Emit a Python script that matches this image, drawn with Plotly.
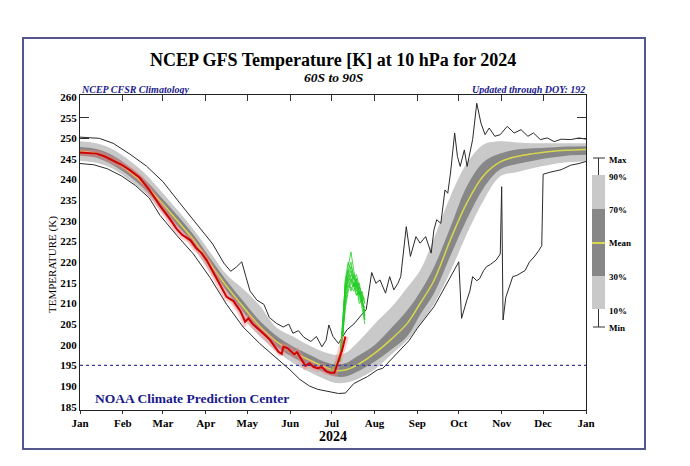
import plotly.graph_objects as go

# ---------------- data ----------------
CLIM_DAYS = [0, 12, 24, 36, 48, 58, 70, 82, 94, 106, 118, 130, 142, 154, 166, 176, 184, 192,
             200, 213, 225, 237, 246, 256, 268, 280, 292, 304, 316, 328, 340, 352, 366]
CLIM_MEAN = [246.8, 246.3, 244.6, 241.9, 238.4, 234.8, 230.2, 225.5, 219.7, 214.2, 209.2, 204.5,
             200.8, 198.2, 196.3, 194.8, 193.8, 193.9, 195.0, 197.9, 201.3, 205.3, 210.0, 215.5,
             225.5, 234.5, 241.0, 244.3, 245.6, 246.3, 246.8, 247.1, 247.3]
CLIM_P90 = [249.3, 248.8, 247.3, 244.6, 241.2, 237.4, 232.8, 228.0, 222.5, 217.0, 213.5, 209.5,
            204.2, 202.0, 199.8, 198.3, 197.6, 198.0, 200.3, 205.0, 209.0, 214.0, 218.0, 225.8,
            236.0, 244.0, 248.5, 249.3, 249.0, 248.8, 248.8, 248.8, 248.8]
CLIM_P70 = [247.9, 247.4, 245.8, 243.0, 239.6, 236.0, 231.5, 226.7, 221.0, 215.5, 210.6, 205.8,
            202.2, 199.6, 197.6, 196.0, 195.2, 195.5, 197.1, 199.9, 204.0, 208.5, 212.8, 218.8,
            228.5, 238.5, 244.3, 246.3, 247.3, 247.6, 247.8, 248.0, 248.1]
CLIM_P30 = [245.8, 245.3, 243.5, 240.8, 237.3, 233.6, 229.0, 224.4, 218.6, 213.0, 208.0, 203.3,
            199.6, 197.0, 195.0, 193.4, 192.4, 192.3, 193.4, 195.9, 198.8, 202.2, 207.3, 212.4,
            221.6, 230.5, 238.0, 242.5, 243.8, 244.6, 245.3, 245.8, 246.0]
CLIM_P10 = [244.6, 244.1, 242.6, 239.8, 236.5, 232.6, 228.0, 223.5, 217.6, 212.0, 206.5, 202.0,
            198.5, 195.6, 193.4, 191.8, 190.8, 190.8, 191.6, 194.0, 197.6, 201.2, 205.0, 209.8,
            217.8, 227.0, 235.0, 240.8, 241.8, 242.8, 243.6, 244.2, 244.4]

MAX_DAYS = [0, 14, 24, 36, 48, 60, 72, 84, 96, 104, 109, 113, 117, 120, 123, 128, 133, 137, 142,
            147, 151, 154, 158, 162, 167, 171, 175, 178, 180, 183, 187, 193, 198, 203, 207, 211,
            214, 217, 221, 224, 227, 230, 232, 236, 239, 243, 246, 250, 254, 256, 258, 261, 264,
            266, 268, 271, 273, 275, 278, 280, 284, 287, 290, 293, 296, 300, 304, 309, 314, 319,
            324, 328, 333, 338, 343, 348, 355, 361, 366]
MAX_T = [250.3, 250.0, 248.8, 246.2, 243.3, 239.5, 234.4, 229.4, 224.4, 219.8, 217.8, 218.8,
         220.1, 216.5, 213.0, 210.8, 209.8, 206.6, 205.2, 204.3, 205.0, 202.8, 203.4, 201.8,
         200.8, 202.0, 199.5, 201.1, 204.8, 202.0, 200.3, 203.6, 205.0, 207.0, 208.5, 217.5,
         214.9, 215.7, 212.5, 216.5, 213.3, 214.9, 216.5, 228.6, 221.4, 226.2, 224.6, 226.2,
         222.2, 227.8, 230.3, 229.4, 237.5, 236.7, 241.6, 251.3, 245.6, 243.2, 247.2, 243.2,
         249.7, 258.5, 253.7, 250.9, 252.5, 250.5, 250.9, 252.9, 251.3, 252.1, 250.5, 251.3,
         249.7, 250.1, 249.2, 249.8, 249.7, 250.1, 249.8]

MIN_DAYS = [0, 10, 20, 30, 40, 50, 58, 70, 82, 94, 106, 118, 130, 142, 152, 159, 166, 172, 180,
            187, 192, 198, 208, 215, 219, 227, 232, 238, 244, 250, 256, 262, 268, 272, 274, 276,
            278, 280, 282, 284, 287, 289, 292, 294, 297, 301, 304, 305, 306, 308, 311, 313, 316,
            319, 322, 325, 329, 332, 334, 335, 340, 348, 355, 361, 366]
MIN_T = [243.9, 243.6, 242.6, 240.9, 238.6, 235.6, 231.3, 226.5, 222.0, 216.3, 209.8, 204.3,
         200.3, 196.8, 193.9, 191.6, 190.0, 189.2, 188.6, 188.2, 188.3, 190.6, 192.3, 193.9,
         194.3, 197.1, 198.7, 201.0, 204.0, 206.5, 209.2, 212.8, 216.5, 219.0, 220.1, 206.4,
         209.0, 211.0, 213.0, 216.5, 215.5, 216.0, 218.0, 218.9, 219.5, 220.5, 222.0, 238.3,
         206.0, 211.5, 214.5, 216.5, 216.8, 217.5, 218.0, 220.0, 221.5, 222.9, 224.0, 241.3,
         241.8, 242.4, 243.5, 243.9, 244.4]

OBS_DAYS = [0, 6, 12, 18, 24, 30, 36, 43, 50, 58, 65, 70, 74, 77, 80, 84, 88, 91.6, 95, 99, 103,
            106, 109, 111, 113, 116, 119.4, 121.8, 125, 130, 134, 137.4, 140, 143.5, 145.9, 147.1,
            150, 153, 155, 157, 160, 163, 166, 169, 172, 175, 178, 181, 184, 186, 189.6, 192]
OBS_T = [246.6, 246.5, 246.3, 245.6, 244.7, 243.6, 242.3, 240.5, 237.6, 233.6, 230.5, 228.0,
         226.6, 225.9, 225.3, 223.4, 222.2, 220.5, 218.4, 216.1, 213.8, 211.6, 211.0, 210.6,
         209.6, 208.2, 205.6, 206.4, 205.0, 203.6, 202.3, 201.2, 200.0, 198.3, 197.8, 199.5,
         199.2, 198.4, 197.7, 198.2, 196.5, 194.9, 195.5, 194.6, 194.3, 194.6, 193.6, 193.2,
         193.2, 195.3, 198.7, 202.0]

FCST_DAYS = [188, 190, 192, 194, 196, 198, 200, 202, 204, 206]
FCST_MEMBERS = [
    [196.5, 203, 214, 219, 222.5, 218, 215, 213, 211, 208],
    [196.5, 204, 216, 218, 220, 216, 217, 214, 212, 210],
    [196.0, 202, 212, 217, 215, 217, 214, 215, 211, 207],
    [196.0, 203, 213, 216, 218, 214, 216, 212, 210, 209],
    [197.0, 205, 215, 214, 216, 215, 213, 214, 212, 206],
    [196.5, 203, 211, 215, 217, 216, 212, 213, 209, 205],
    [196.0, 202, 210, 214, 214, 213, 215, 211, 210, 208],
    [197.0, 204, 214, 217, 219, 217, 214, 212, 213, 210],
    [196.0, 203, 213, 216, 213, 215, 214, 210, 211, 207],
    [196.5, 204, 215, 218, 216, 214, 216, 213, 210, 209],
    [196.0, 202, 209, 213, 215, 214, 212, 213, 211, 206],
    [197.0, 205, 216, 220, 218, 216, 215, 214, 212, 211],
]
EARLY_DAYS = [181, 183, 185, 187, 189]
EARLY_MEMBERS = [
    [193.6, 194.2, 195.0, 196.0, 197.5],
    [193.6, 194.6, 195.8, 197.0, 198.5],
    [193.6, 193.8, 194.5, 195.5, 196.8],
]

THRESHOLD = 195
MONTH_DAYS = [0, 31, 60, 91, 121, 152, 182, 213, 244, 274, 305, 335, 366]
MONTH_LABELS = ["Jan", "Feb", "Mar", "Apr", "May", "Jun", "Jul", "Aug", "Sep", "Oct", "Nov",
                "Dec", "Jan"]
Y_TICKS = [185, 190, 195, 200, 205, 210, 215, 220, 225, 230, 235, 240, 245, 250, 255, 260]
INNER_Y_TICKS = [250, 255]
LEGEND_LABELS = ["Max", "90%", "70%", "Mean", "30%", "10%", "Min"]

# ---------------- styling ----------------
SERIF = "Liberation Serif"
LIGHT = "#c9c9c9"
DARK = "#878787"
MEANC = "#d8d84c"
NAVY = "#1a1a8c"

W, H = 690, 466
L, R, T, B = 80, 586, 95, 410


def px(x):
    return (x - L) / (R - L)


def py(y):
    return (B - y) / (B - T)


fig = go.Figure()

fig.add_trace(go.Scatter(x=CLIM_DAYS, y=CLIM_P10, mode="lines", line=dict(width=0, shape="spline"),
                         hoverinfo="skip", showlegend=False))
fig.add_trace(go.Scatter(x=CLIM_DAYS, y=CLIM_P90, mode="lines", line=dict(width=0, shape="spline"),
                         fill="tonexty", fillcolor=LIGHT, hoverinfo="skip", showlegend=False))
fig.add_trace(go.Scatter(x=CLIM_DAYS, y=CLIM_P30, mode="lines", line=dict(width=0, shape="spline"),
                         hoverinfo="skip", showlegend=False))
fig.add_trace(go.Scatter(x=CLIM_DAYS, y=CLIM_P70, mode="lines", line=dict(width=0, shape="spline"),
                         fill="tonexty", fillcolor=DARK, hoverinfo="skip", showlegend=False))
fig.add_trace(go.Scatter(x=CLIM_DAYS, y=CLIM_MEAN, mode="lines",
                         line=dict(color=MEANC, width=1.5, shape="spline"), showlegend=False))
fig.add_trace(go.Scatter(x=MAX_DAYS, y=MAX_T, mode="lines",
                         line=dict(color="#2a2a2a", width=1), showlegend=False))
fig.add_trace(go.Scatter(x=MIN_DAYS, y=MIN_T, mode="lines", xaxis="x2", yaxis="y2",
                         line=dict(color="#2a2a2a", width=1), showlegend=False))

for m in EARLY_MEMBERS:
    fig.add_trace(go.Scatter(x=EARLY_DAYS, y=m, mode="lines",
                             line=dict(color="#33cc33", width=0.8), showlegend=False))
for m in FCST_MEMBERS:
    fig.add_trace(go.Scatter(x=FCST_DAYS, y=m, mode="lines",
                             line=dict(color="#22cc22", width=0.8), showlegend=False))

fig.add_trace(go.Scatter(x=OBS_DAYS, y=OBS_T, mode="lines",
                         line=dict(color="rgba(255,130,130,0.4)", width=7), hoverinfo="skip",
                         showlegend=False))
fig.add_trace(go.Scatter(x=OBS_DAYS, y=OBS_T, mode="lines",
                         line=dict(color="#d00000", width=2), showlegend=False))

shapes = [
    dict(type="line", xref="paper", yref="y", x0=0, x1=1, y0=THRESHOLD, y1=THRESHOLD,
         line=dict(color="#3c3ca0", width=1.2, dash="dot"), layer="above"),
    # outer frame
    dict(type="rect", xref="paper", yref="paper", x0=px(23), x1=px(645), y0=py(449), y1=py(38),
         line=dict(color="#55558f", width=2), layer="below"),
    # legend key
    dict(type="rect", xref="paper", yref="paper", x0=px(592), x1=px(605), y0=py(309), y1=py(175),
         fillcolor=LIGHT, line=dict(width=0)),
    dict(type="rect", xref="paper", yref="paper", x0=px(592), x1=px(605), y0=py(276), y1=py(209),
         fillcolor=DARK, line=dict(width=0)),
    dict(type="line", xref="paper", yref="paper", x0=px(592), x1=px(605), y0=py(243), y1=py(243),
         line=dict(color=MEANC, width=2)),
    dict(type="line", xref="paper", yref="paper", x0=px(598.5), x1=px(598.5), y0=py(158), y1=py(175),
         line=dict(color="#333", width=1)),
    dict(type="line", xref="paper", yref="paper", x0=px(598.5), x1=px(598.5), y0=py(309), y1=py(327),
         line=dict(color="#333", width=1)),
    dict(type="line", xref="paper", yref="paper", x0=px(593), x1=px(605), y0=py(158), y1=py(158),
         line=dict(color="#333", width=1)),
    dict(type="line", xref="paper", yref="paper", x0=px(593), x1=px(605), y0=py(327), y1=py(327),
         line=dict(color="#333", width=1)),
]

LEGEND_Y = [160, 177, 210, 243, 277, 311, 328]
annotations = [
    dict(text="<b>NCEP GFS Temperature [K] at 10 hPa for 2024</b>", x=px(333), y=py(60),
         xref="paper", yref="paper", showarrow=False, xanchor="center", yanchor="middle",
         font=dict(family=SERIF, size=18, color="black")),
    dict(text="<b><i>60S to 90S</i></b>", x=px(333), y=py(78), xref="paper", yref="paper",
         showarrow=False, xanchor="center", yanchor="middle",
         font=dict(family=SERIF, size=13.5, color="black")),
    dict(text="<b><i>NCEP CFSR Climatology</i></b>", x=px(79), y=py(89), xref="paper",
         yref="paper", showarrow=False, xanchor="left", yanchor="middle",
         font=dict(family=SERIF, size=10, color=NAVY)),
    dict(text="<b><i>Updated through DOY: 192</i></b>", x=px(587), y=py(89), xref="paper",
         yref="paper", showarrow=False, xanchor="right", yanchor="middle",
         font=dict(family=SERIF, size=10, color=NAVY)),
    dict(text="<b>NOAA Climate Prediction Center</b>", x=px(93), y=py(398), xref="paper",
         yref="paper", showarrow=False, xanchor="left", yanchor="middle",
         font=dict(family=SERIF, size=13.5, color=NAVY)),
    dict(text="TEMPERATURE (K)", x=px(52), y=py(265), xref="paper", yref="paper",
         showarrow=False, textangle=-90, xanchor="center", yanchor="middle",
         font=dict(family=SERIF, size=11, color="black")),
    dict(text="<b>2024</b>", x=px(333), y=py(436), xref="paper", yref="paper", showarrow=False,
         xanchor="center", yanchor="middle", font=dict(family=SERIF, size=14, color="black")),
]
for lab, ly in zip(LEGEND_LABELS, LEGEND_Y):
    annotations.append(dict(text="<b>" + lab + "</b>", x=px(607), y=py(ly), xref="paper",
                            yref="paper", showarrow=False, xanchor="left", yanchor="middle",
                            font=dict(family=SERIF, size=9, color="black")))

fig.update_layout(
    width=W, height=H,
    margin=dict(l=L, r=W - R, t=T, b=H - B, pad=0),
    paper_bgcolor="white", plot_bgcolor="white",
    showlegend=False,
    xaxis=dict(range=[0, 366], tickmode="array", tickvals=MONTH_DAYS, ticktext=MONTH_LABELS,
               ticks="outside", ticklen=3, tickcolor="#333", showgrid=False, zeroline=False,
               showline=True, linecolor="#222", linewidth=1, mirror=True,
               tickfont=dict(family=SERIF, size=11, color="black", weight="bold"),
               fixedrange=True),
    xaxis2=dict(range=[0, 366], overlaying="x", side="top", tickmode="array", tickvals=MONTH_DAYS,
                ticks="inside", ticklen=6, tickcolor="#333", showticklabels=False,
                showgrid=False, zeroline=False, showline=False),
    yaxis=dict(range=[184.2, 260.5], tickmode="array", tickvals=Y_TICKS, ticks="",
               showgrid=False, zeroline=False, showline=True, linecolor="#222", linewidth=1,
               mirror=True, tickfont=dict(family=SERIF, size=11, color="black", weight="bold"),
               ticklabelstandoff=0),
    yaxis2=dict(range=[184.2, 260.5], overlaying="y", side="left", tickmode="array",
                tickvals=INNER_Y_TICKS, ticks="inside", ticklen=9, tickcolor="#333",
                showticklabels=False, showgrid=False, zeroline=False, showline=False,
                mirror="ticks"),
    shapes=shapes,
    annotations=annotations,
)

fig.write_html("out.html", config={"displayModeBar": False},
               post_script="document.body.style.margin='0px';")
